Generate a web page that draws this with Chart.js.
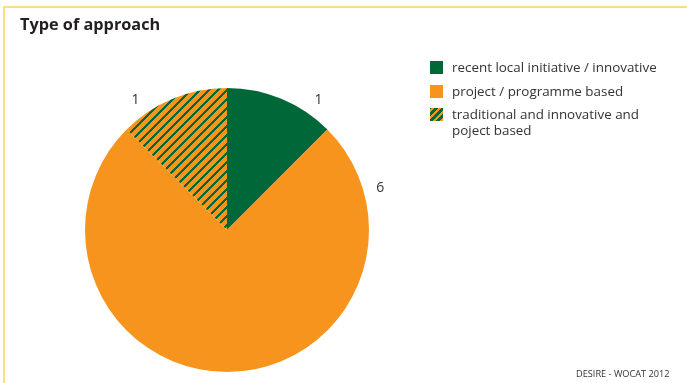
<!DOCTYPE html>
<html>
<head>
<meta charset="utf-8">
<script src="https://cdn.jsdelivr.net/npm/chart.js@4"></script>
<style>
  html, body { margin: 0; padding: 0; background: #fff; }
  #wrap { position: relative; width: 687px; height: 383px; overflow: hidden; font-family: 'Open Sans', sans-serif; color: #333; }
  #frame { position: absolute; left: 3px; top: 6px; width: 690px; height: 400px; border-left: 2px solid #fddc86; border-top: 2px solid #fddc86; }
  #title { position: absolute; left: 20px; top: 13px; font-size: 16.3px; font-weight: bold; color: #231f20; }
  #legend { position: absolute; left: 430px; top: 59px; font-size: 13.4px; line-height: 16px; }
  .item { position: relative; padding-left: 22px; margin-bottom: 7.5px; width: 235px; }
  .swatch { position: absolute; left: 0; top: 2px; width: 13px; height: 13px; }
  #source { position: absolute; left: 576px; top: 367px; font-size: 9.2px; }
  #chart { position: absolute; left: 0; top: 0; }
</style>
</head>
<body>
<div id="wrap">
  <div id="frame"></div>
  <canvas id="chart" width="687" height="383"></canvas>
  <div id="title">Type of approach</div>
  <div id="legend"></div>
  <div id="source">DESIRE - WOCAT 2012</div>
</div>
<script>
// data
const categories = [
    'recent local initiative / innovative',
    'project / programme based',
    'traditional and innovative and poject based'
];
const legendLines = [
    ['recent local initiative / innovative'],
    ['project / programme based'],
    ['traditional and innovative and', 'poject based']
];
const counts = [1, 6, 1];

const GREEN = '#006838';
const ORANGE = '#f7941d';

// hatched fill: orange with green "/" stripes
function makeHatch() {
    const tile = document.createElement('canvas');
    tile.width = 9;
    tile.height = 9;
    const c = tile.getContext('2d');
    const img = c.createImageData(9, 9);
    for (let y = 0; y < 9; y++) {
        for (let x = 0; x < 9; x++) {
            const i = (y * 9 + x) * 4;
            const green = ((x + y) % 9) < 3;
            img.data[i] = green ? 0 : 247;
            img.data[i + 1] = green ? 104 : 148;
            img.data[i + 2] = green ? 56 : 29;
            img.data[i + 3] = 255;
        }
    }
    c.putImageData(img, 0, 0);
    return tile;
}

const ctx = document.getElementById('chart').getContext('2d');
const hatch = ctx.createPattern(makeHatch(), 'repeat');
const fills = [GREEN, ORANGE, hatch];

// value labels placed outside the rim, at a fraction of each slice's sweep
const outsideLabels = {
    id: 'outsideLabels',
    afterDatasetsDraw(chart, args, opts) {
        const g = chart.ctx;
        const meta = chart.getDatasetMeta(0);
        g.save();
        g.font = '14px "Open Sans", sans-serif';
        g.fillStyle = '#333';
        g.textAlign = 'center';
        g.textBaseline = 'middle';
        meta.data.forEach((arc, i) => {
            const a = arc.startAngle + (arc.endAngle - arc.startAngle) * opts.fractions[i];
            const r = arc.outerRadius + opts.gap;
            g.fillText(String(counts[i]), arc.x + Math.cos(a) * r, arc.y + Math.sin(a) * r);
        });
        g.restore();
    }
};

new Chart(ctx, {
    type: 'pie',
    data: {
        labels: categories,
        datasets: [{
            data: counts,
            backgroundColor: fills,
            borderWidth: 0
        }]
    },
    options: {
        responsive: false,
        animation: false,
        layout: {
            padding: { left: 85, right: 318, top: 88, bottom: 11 }
        },
        plugins: {
            legend: { display: false },
            tooltip: { enabled: false },
            outsideLabels: { fractions: [0.78, 0.11, 0.22], gap: 17 }
        }
    },
    plugins: [outsideLabels]
});

// html legend
const legend = document.getElementById('legend');
legendLines.forEach((lines, i) => {
    const item = document.createElement('div');
    item.className = 'item';
    const sw = document.createElement('div');
    sw.className = 'swatch';
    if (i === 2) {
        sw.style.background = 'repeating-linear-gradient(-45deg, ' + ORANGE + ' 0 2.5px, ' + GREEN + ' 2.5px 5px)';
    } else {
        sw.style.background = fills[i];
    }
    item.appendChild(sw);
    item.innerHTML += lines.join('<br>');
    legend.appendChild(item);
});
</script>
</body>
</html>
